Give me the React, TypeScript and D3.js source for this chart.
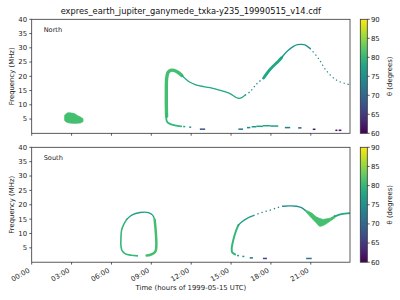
import React from "react";
import * as d3 from "d3";

// ---------- data ----------
const titleText = "expres_earth_jupiter_ganymede_txka-y235_19990515_v14.cdf";
const timeTickHours = [0, 3, 6, 9, 12, 15, 18, 21];
const timeTickLabels = ["00:00", "03:00", "06:00", "09:00", "12:00", "15:00", "18:00", "21:00"];
const freqTicks = [5, 10, 15, 20, 25, 30, 35, 40];
const thetaTicks = [60, 65, 70, 75, 80, 85, 90];
const timeDomain: [number, number] = [0, 23.95];
const freqDomain: [number, number] = [0, 40];
const thetaDomain: [number, number] = [60, 90];

type P = [number, number]; // [hour, MHz]
type Row = [number, number, number]; // [hour, fLow, fHigh]
type Dash = [number, number, number, number]; // [hourStart, hourEnd, MHz, theta]
interface Trace { id: string; theta: number; points: P[] }
interface Band { id: string; theta: number; rows: Row[] }

const northBands: Band[] = [
  {
    id: "blob", theta: 81,
    rows: [[2.48, 4.5, 6.3], [2.6, 4.0, 6.9], [2.76, 3.7, 7.2], [3.0, 3.55, 7.1], [3.26, 3.5, 6.8],
      [3.45, 3.55, 6.2], [3.63, 3.6, 5.8], [3.75, 3.8, 5.5], [3.86, 4.1, 5.1]],
  },
];

const northTraces: Trace[] = [
  { id: "vertical", theta: 81, points: [[10.15, 6], [10.13, 10], [10.13, 15], [10.15, 19], [10.25, 21.3], [10.45, 22.1], [10.7, 22.1], [11.0, 21.4], [11.3, 20.3]] },
  { id: "hook", theta: 80, points: [[10.15, 7], [10.13, 5], [10.2, 4.0], [10.4, 3.3], [10.7, 2.9], [11.0, 2.6], [11.25, 2.45]] },
  { id: "descent", theta: 78, points: [[11.3, 20.3], [11.55, 19.2], [11.91, 17.9], [12.3, 17.1], [12.66, 16.6], [13.41, 16.0], [14.17, 15.1], [14.92, 13.9], [15.3, 12.8], [15.55, 12.3], [15.8, 12.5], [16.05, 13.4]] },
  { id: "rise", theta: 74, points: [[16.05, 13.4], [16.43, 14.6], [16.93, 17.3], [17.45, 19.4]] },
  { id: "thick", theta: 78, points: [[17.45, 19.4], [17.93, 22.4], [18.56, 25.3], [18.8, 26.5]] },
  { id: "peak", theta: 76, points: [[18.8, 26.5], [19.2, 28.7], [19.7, 30.5], [20.0, 31.1], [20.3, 31.2], [20.56, 31.0], [20.94, 29.8]] },
  { id: "fall", theta: 73, points: [[20.94, 29.8], [21.57, 26.3], [22.2, 21.8], [22.95, 18.6], [23.57, 17.5], [23.95, 17.1]] },
];

const northDashes: Dash[] = [
  [11.4, 11.55, 2.35, 78], [11.85, 12.0, 2.15, 76], [12.65, 13.05, 1.45, 68],
  [15.55, 15.9, 1.45, 72], [16.2, 16.45, 2.0, 74], [16.55, 16.9, 2.3, 76],
  [16.9, 17.4, 2.45, 77], [17.4, 17.95, 2.65, 78], [17.95, 18.55, 2.55, 77],
  [19.05, 19.45, 2.0, 73], [20.05, 20.3, 1.9, 69], [21.15, 21.35, 1.4, 62],
  [22.85, 23.0, 1.05, 61], [23.1, 23.3, 1.05, 61],
];

const southBands: Band[] = [
  {
    id: "dip", theta: 81,
    rows: [[20.57, 17.9, 18.2], [21.07, 15.3, 17.1], [21.44, 13.6, 15.7], [21.69, 12.5, 15.2],
      [21.94, 12.8, 14.9], [22.2, 13.5, 15.1], [22.45, 14.3, 15.3], [22.82, 15.5, 16.4]],
  },
];

const southTraces: Trace[] = [
  { id: "loopLeft", theta: 80, points: [[7.95, 2.2], [7.5, 2.4], [7.05, 2.9], [6.8, 4.0], [6.72, 5.5], [6.72, 9], [6.76, 11.1], [6.9, 12.9], [7.15, 14.9]] },
  { id: "loopTop", theta: 77, points: [[7.15, 14.9], [7.53, 16.4], [8.15, 17.3], [8.77, 17.3], [9.1, 16.4], [9.25, 14.8]] },
  { id: "loopRight", theta: 81, points: [[9.25, 14.8], [9.33, 11], [9.38, 6], [9.33, 4], [9.15, 3.0], [8.9, 2.5], [8.65, 2.3]] },
  { id: "riseLow", theta: 80, points: [[15.3, 2.7], [15.08, 3.5], [15.05, 4.8], [15.17, 7.7], [15.35, 10.6], [15.55, 12.9]] },
  { id: "riseHigh", theta: 77, points: [[15.55, 12.9], [15.8, 14.0], [16.18, 15.2], [16.68, 16.2]] },
  { id: "sDots", theta: 73, points: [[16.68, 16.2], [17.3, 17.3], [17.93, 18.1], [18.5, 19.0], [18.93, 19.5]] },
  { id: "flat", theta: 75, points: [[18.93, 19.5], [19.4, 19.6], [19.93, 19.5], [20.3, 19.0], [20.57, 18.1]] },
  { id: "tail", theta: 78, points: [[22.82, 15.95], [23.3, 16.75], [23.95, 17.1]] },
];

const southDashes: Dash[] = [
  [15.45, 15.6, 2.3, 78], [15.85, 16.0, 2.0, 76], [16.4, 16.65, 1.5, 72],
  [17.4, 17.7, 1.3, 66], [20.65, 21.07, 1.3, 72],
];

// ---------- styles ----------
const traceStyle: Record<string, { w: number; dash?: string }> = {
  vertical: { w: 3.4 }, hook: { w: 1.8 }, descent: { w: 1.3 }, rise: { w: 1.3, dash: "1.4 2.6" },
  thick: { w: 2.8 }, peak: { w: 1.4 }, fall: { w: 1.2, dash: "1.3 2.8" },
  loopLeft: { w: 1.6 }, loopTop: { w: 1.3 }, loopRight: { w: 2.5 }, riseLow: { w: 2 }, riseHigh: { w: 1.4 },
  sDots: { w: 1.3, dash: "1.3 3" }, flat: { w: 1.4 }, tail: { w: 1.8 },
};

const FONT = "DejaVu Sans, sans-serif";
const AX = { left: 31.7, right: 350 };
const CB = { left: 360.3, right: 367.3 };
const spine = "#333";

const x = d3.scaleLinear().domain(timeDomain).range([AX.left, AX.right]);
const color = (t: number) => d3.interpolateViridis((t - thetaDomain[0]) / (thetaDomain[1] - thetaDomain[0]));

function Panel(props: {
  top: number; bottom: number; label: string; traces: Trace[]; bands: Band[]; dashes: Dash[];
  showXLabels: boolean; clipId: string;
}) {
  const { top, bottom, label, traces, bands, dashes, showXLabels, clipId } = props;
  const y = d3.scaleLinear().domain(freqDomain).range([bottom, top]);
  const cy = d3.scaleLinear().domain(thetaDomain).range([bottom, top]);
  const line = d3.line<P>().x((d) => x(d[0])).y((d) => y(d[1])).curve(d3.curveCatmullRom.alpha(0.5));
  const area = d3.area<Row>().x((d) => x(d[0])).y0((d) => y(d[1])).y1((d) => y(d[2])).curve(d3.curveMonotoneX);
  const mid = (top + bottom) / 2;
  return (
    <g>
      <defs>
        <clipPath id={clipId}>
          <rect x={AX.left} y={top} width={AX.right - AX.left} height={bottom - top} />
        </clipPath>
      </defs>
      <g clipPath={`url(#${clipId})`}>
        {bands.map((b) => (
          <path key={b.id} d={area(b.rows) || ""} fill={color(b.theta)} stroke={color(b.theta)} strokeWidth={0.8} />
        ))}
        {traces.map((t) => {
          const s = traceStyle[t.id];
          return (
            <path key={t.id} d={line(t.points) || ""} fill="none" stroke={color(t.theta)} strokeWidth={s.w}
              strokeDasharray={s.dash} strokeLinecap={s.dash ? "butt" : "round"} strokeLinejoin="round" />
          );
        })}
        {dashes.map((d, i) => (
          <rect key={i} x={x(d[0])} y={y(d[2]) - 0.75} width={Math.max(1.5, x(d[1]) - x(d[0]))} height={1.5} fill={color(d[3])} />
        ))}
      </g>
      {/* frame */}
      <rect x={AX.left} y={top} width={AX.right - AX.left} height={bottom - top} fill="none" stroke={spine} strokeWidth={0.8} />
      {/* y ticks */}
      {freqTicks.map((f) => (
        <g key={f}>
          <line x1={AX.left - 2.4} x2={AX.left} y1={y(f)} y2={y(f)} stroke={spine} strokeWidth={0.8} />
          <text x={AX.left - 4.6} y={y(f)} dy="0.35em" textAnchor="end" fontSize={6.9} fontFamily={FONT} fill="#222">{f}</text>
        </g>
      ))}
      <text transform={`translate(12,${mid}) rotate(-90)`} textAnchor="middle" dy="0.35em" fontSize={6.9} fontFamily={FONT} fill="#222">Frequency (MHz)</text>
      {/* x ticks */}
      {timeTickHours.map((h, i) => (
        <g key={h}>
          <line x1={x(h)} x2={x(h)} y1={bottom} y2={bottom + 2.4} stroke={spine} strokeWidth={0.8} />
          {showXLabels && (
            <text transform={`translate(${x(h) - 1.5},${bottom + 9.5}) rotate(-30)`} textAnchor="end" fontSize={6.9} fontFamily={FONT} fill="#222">{timeTickLabels[i]}</text>
          )}
        </g>
      ))}
      <text x={AX.left + 12} y={top + 12.5} fontSize={6.6} fontFamily={FONT} fill="#222">{label}</text>
      {/* colorbar */}
      <rect x={CB.left} y={top} width={CB.right - CB.left} height={bottom - top} fill="url(#viridisGrad)" />
      <rect x={CB.left} y={top} width={CB.right - CB.left} height={bottom - top} fill="none" stroke={spine} strokeWidth={0.8} />
      {thetaTicks.map((t) => (
        <g key={t}>
          <line x1={CB.right} x2={CB.right + 2.4} y1={cy(t)} y2={cy(t)} stroke={spine} strokeWidth={0.8} />
          <text x={CB.right + 3.6} y={cy(t)} dy="0.35em" fontSize={6.9} fontFamily={FONT} fill="#222">{t}</text>
        </g>
      ))}
      <text transform={`translate(389.5,${mid}) rotate(-90)`} textAnchor="middle" dy="0.35em" fontSize={6.9} fontFamily={FONT} fill="#222">θ (degrees)</text>
    </g>
  );
}

export default function App() {
  const stops = d3.range(0, 1.0001, 0.05);
  return (
    <div style={{ position: "fixed", left: 0, top: 0, width: 400, height: 300, background: "#fff" }}>
      <svg width={400} height={300} viewBox="0 0 400 300" style={{ display: "block" }}>
        <defs>
          <linearGradient id="viridisGrad" x1="0" y1="1" x2="0" y2="0">
            {stops.map((s) => (
              <stop key={s} offset={s} stopColor={d3.interpolateViridis(s)} />
            ))}
          </linearGradient>
        </defs>
        <rect width={400} height={300} fill="#fff" />
        <text x={(AX.left + AX.right) / 2} y={13.5} textAnchor="middle" fontSize={8.3} fontFamily={FONT} fill="#111">{titleText}</text>
        <Panel top={19.3} bottom={133.3} label="North" traces={northTraces} bands={northBands} dashes={northDashes} showXLabels={false} clipId="clipN" />
        <Panel top={147.3} bottom={262.2} label="South" traces={southTraces} bands={southBands} dashes={southDashes} showXLabels={true} clipId="clipS" />
        <text x={(AX.left + AX.right) / 2} y={290} textAnchor="middle" fontSize={6.9} fontFamily={FONT} fill="#222">Time (hours of 1999-05-15 UTC)</text>
      </svg>
    </div>
  );
}
